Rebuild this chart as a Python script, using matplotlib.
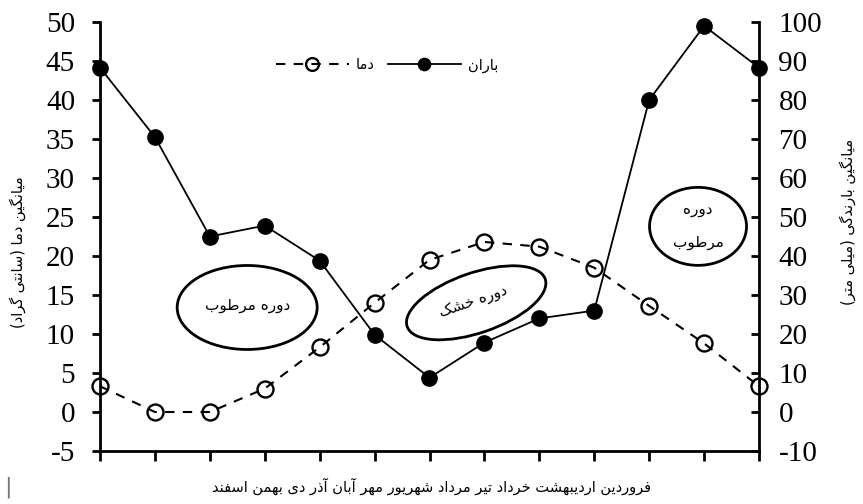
import matplotlib
matplotlib.use("Agg")
import matplotlib.pyplot as plt
import matplotlib.transforms as mtransforms
from matplotlib.patches import Ellipse
import numpy as np

plt.rcParams["axes.unicode_minus"] = False

# ---------------- data ----------------
months = ["فروردین", "اردیبهشت", "خرداد", "تیر", "مرداد", "شهریور",
          "مهر", "آبان", "آذر", "دی", "بهمن", "اسفند"]
temperature = [3.3, 0.0, 0.0, 3.0, 8.3, 14.0, 19.5, 21.8, 21.2, 18.5, 13.6, 8.8, 3.3]
rainfall = [88.3, 70.5, 45.0, 47.8, 38.8, 19.8, 8.8, 17.8, 24.0, 26.0, 80.0, 99.0, 88.3]
temp_ticks = [-5, 0, 5, 10, 15, 20, 25, 30, 35, 40, 45, 50]
rain_ticks = [-10, 0, 10, 20, 30, 40, 50, 60, 70, 80, 90, 100]
label_temp = "دما"
label_rain = "باران"
ylabel_left = "میانگین دما (سانتی گراد)"
ylabel_right = "میانگین بارندگی (میلی متر)"
wet_text = "دوره مرطوب"
dry_text = "دوره خشک"

# ------------- Persian shaping for display (matplotlib has no shaping) -------------
DUAL = {'ب': 0xFE8F, 'ت': 0xFE95, 'ث': 0xFE99, 'ج': 0xFE9D, 'ح': 0xFEA1, 'خ': 0xFEA5,
        'س': 0xFEB1, 'ش': 0xFEB5, 'ص': 0xFEB9, 'ض': 0xFEBD, 'ط': 0xFEC1, 'ظ': 0xFEC5,
        'ع': 0xFEC9, 'غ': 0xFECD, 'ف': 0xFED1, 'ق': 0xFED5, 'ل': 0xFEDD, 'م': 0xFEE1,
        'ن': 0xFEE5, 'ه': 0xFEE9, 'ی': 0xFBFC, 'ک': 0xFB8E, 'گ': 0xFB92, 'پ': 0xFB56,
        'چ': 0xFB7A}
RIGHT = {'ا': 0xFE8D, 'آ': 0xFE81, 'د': 0xFEA9, 'ذ': 0xFEAB, 'ر': 0xFEAD, 'ز': 0xFEAF,
         'و': 0xFEED, 'ژ': 0xFB8A}


def fa(s):
    out = []
    n = len(s)
    for i, c in enumerate(s):
        if c in DUAL or c in RIGHT:
            prev = s[i - 1] if i > 0 else ''
            nxt = s[i + 1] if i < n - 1 else ''
            jp = prev in DUAL
            if c in DUAL:
                jn = nxt in DUAL or nxt in RIGHT
                off = 3 if (jp and jn) else (1 if jp else (2 if jn else 0))
                out.append(chr(DUAL[c] + off))
            else:
                out.append(chr(RIGHT[c] + (1 if jp else 0)))
        else:
            out.append({'(': ')', ')': '('}.get(c, c))
    return ''.join(reversed(out))


FA_FONT = "DejaVu Sans"
NUM_FONT = "Liberation Serif"

# ---------------- figure ----------------
W, H = 863, 504
fig = plt.figure(figsize=(W / 100, H / 100), dpi=100)
ax = fig.add_axes([100 / W, 1 - 451 / H, (759 - 100) / W, (451 - 22) / H])
ax2 = ax.twinx()

x = np.arange(len(temperature))

ax.plot(x, temperature, linestyle=(0, (4.5, 4.0)), color="black", lw=1.5,
        marker="o", ms=11.5, mfc="none", mec="black", mew=1.7, clip_on=False,
        label=fa(label_temp), zorder=3)
ax2.plot(x, rainfall, linestyle="-", color="black", lw=1.3,
         marker="o", ms=11, mfc="black", mec="black", clip_on=False,
         label=fa(label_rain), zorder=3)

ax.set_xlim(0, len(temperature) - 1)
ax.set_ylim(-5, 50)
ax2.set_ylim(-10, 100)
ax.set_yticks(temp_ticks)
ax2.set_yticks(rain_ticks)
ax.set_xticks(x)
ax.set_xticklabels([])

for a in (ax, ax2):
    a.spines["top"].set_visible(False)
    for s in ("left", "right", "bottom"):
        a.spines[s].set_linewidth(2)
ax.spines["right"].set_visible(False)
ax2.spines["left"].set_visible(False)
ax2.spines["bottom"].set_visible(False)

ax.tick_params(axis="y", direction="out", length=6, width=2, pad=12, labelsize=21)
ax.tick_params(axis="x", direction="out", length=7, width=2)
ax2.tick_params(axis="y", direction="in", length=6, width=2, pad=14, labelsize=21)
for lab in ax.get_yticklabels() + ax2.get_yticklabels():
    lab.set_fontfamily(NUM_FONT)

# axis titles (rotated)
fig.text(18 / W, 1 - 252 / H, fa(ylabel_left), rotation=90, ha="center", va="center",
         fontsize=10.5, family=FA_FONT)
fig.text(848 / W, 1 - 222 / H, fa(ylabel_right), rotation=90, ha="center", va="center",
         fontsize=10.5, family=FA_FONT)

# month line
fig.text(431 / W, 1 - 486 / H, fa(" ".join(months)), ha="center", va="center",
         fontsize=10.5, family=FA_FONT)
fig.text(8 / W, 1 - 487 / H, "|", ha="center", va="center", fontsize=16, color="#777777")

# legend
h1, l1 = ax.get_legend_handles_labels()
h2, l2 = ax2.get_legend_handles_labels()
fig.legend(h1 + h2, l1 + l2, loc="center", bbox_to_anchor=(387 / W, 1 - 65 / H),
           ncol=2, frameon=False, prop={"family": FA_FONT, "size": 10.5},
           handlelength=5.0, handletextpad=0.5, columnspacing=0.9, markerscale=0.8)

# ellipses with annotations (sized in physical units, positioned in data coords)
def add_ellipse(xd, yd, wpx, hpx, angle=0):
    tr = fig.dpi_scale_trans + mtransforms.ScaledTranslation(xd, yd, ax.transData)
    e = Ellipse((0, 0), wpx / 100, hpx / 100, angle=angle, fill=False,
                edgecolor="black", lw=2, transform=tr, clip_on=False, zorder=4)
    ax.add_patch(e)

add_ellipse(2.68, 13.4, 140, 84)
ax.text(2.68, 13.6, fa(wet_text), ha="center", va="center", fontsize=11, family=FA_FONT)

add_ellipse(6.85, 14.0, 146, 60, angle=19)
ax.text(6.8, 14.2, fa(dry_text), ha="center", va="center", fontsize=11, family=FA_FONT,
        rotation=19, rotation_mode="anchor")

add_ellipse(10.89, 23.8, 97, 78)
wet_words = wet_text.split(" ")
ax.text(10.89, 26.0, fa(wet_words[0]), ha="center", va="center", fontsize=11, family=FA_FONT)
ax.text(10.89, 21.7, fa(wet_words[1]), ha="center", va="center", fontsize=11, family=FA_FONT)

fig.savefig("out.png", dpi=100)
